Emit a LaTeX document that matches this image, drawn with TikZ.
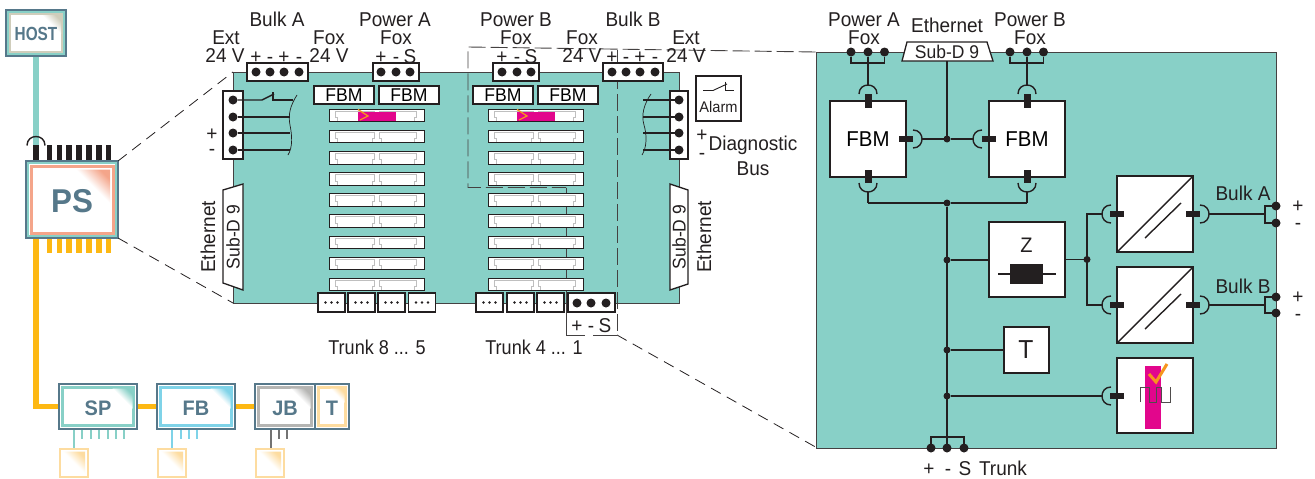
\documentclass[tikz,border=0pt]{standalone}
\usepackage{fontspec}
\setmainfont[FakeStretch=0.95]{Liberation Sans}
\usetikzlibrary{calc}
\definecolor{teal}{HTML}{88D0C7}
\definecolor{slate}{HTML}{56788A}
\definecolor{ink}{HTML}{231F20}
\definecolor{amber}{HTML}{FDB813}
\definecolor{magen}{HTML}{E2068C}
\definecolor{orng}{HTML}{F7941D}
\definecolor{salmon}{HTML}{F4A58A}
\definecolor{sky}{HTML}{7FD3E8}
\definecolor{greyr}{HTML}{B5B5B3}
\definecolor{tan}{HTML}{FDDCA0}
\definecolor{khaki}{HTML}{CFCDBB}
\tikzset{
 lbl/.style={font=\fontsize{20}{20}\selectfont,text=ink,inner sep=0pt,outer sep=0pt,text height=14.3pt,text depth=0pt},
 slbl/.style={font=\fontsize{18.4}{18.4}\selectfont,text=ink,inner sep=0pt,outer sep=0pt,text height=13.2pt,text depth=0pt},
 block/.style={draw=ink,fill=white,line width=1.3pt,inner sep=0pt,outer sep=0pt},
 wire/.style={draw=ink,line width=1.4pt},
 dashln/.style={draw=ink,line width=0.8pt,dash pattern=on 11pt off 7pt},
 framedash/.style={draw=ink!85,line width=0.9pt,dash pattern=on 17pt off 5pt},
 bigdot/.style={circle,fill=ink,minimum size=9pt,inner sep=0pt,outer sep=0pt},
 joint/.style={circle,fill=ink,minimum size=7pt,inner sep=0pt,outer sep=0pt},
 tiny/.style={circle,fill=ink,minimum size=2.8pt,inner sep=0pt,outer sep=0pt},
 pin/.style={fill=ink,draw=none,inner sep=0pt,outer sep=0pt},
 corner/.style={top color=#1,bottom color=white,middle color=white,shading angle=-45},
 devtext/.style={text=slate,font=\bfseries\fontsize{21}{21}\selectfont,inner sep=0pt},
}
% name x1 y1 x2 y2 style text
\newcommand{\pbox}[7]{\node[#6,minimum width={(#4-#2)*1pt},minimum height={(#5-#3)*1pt}] (#1) at ({(#2+#4)/2},{(#3+#5)/2}) {#7};}
% device: name x1 y1 x2 y2 ring colour, ring width, corner size
\newcommand{\devbox}[8]{%
 \fill[white] (#2,#3) rectangle (#4,#5);
 \draw[#6,line width=#7pt] ({#2+3.5},{#3+3.5}) rectangle ({#4-3.5},{#5-3.5});
 \shade[corner=#6] ({#4-4.5-#8},{#3+4.5}) -- ({#4-4.5},{#3+4.5}) -- ({#4-4.5},{#3+4.5+#8}) -- cycle;
 \pbox{#1}{#2}{#3}{#4}{#5}{draw=slate,line width=1.2pt,inner sep=0pt,outer sep=0pt}{}
}
\newcommand{\arcU}[2]{\draw[wire] ({#1-9},#2) .. controls ({#1-9},{#2-12}) and ({#1+9},{#2-12}) .. ({#1+9},#2);}
\newcommand{\arcD}[2]{\draw[wire] ({#1-9},#2) .. controls ({#1-9},{#2+12}) and ({#1+9},{#2+12}) .. ({#1+9},#2);}
\newcommand{\arcL}[2]{\draw[wire] (#1,{#2-9}) .. controls ({#1-12},{#2-9}) and ({#1-12},{#2+9}) .. (#1,{#2+9});}
\newcommand{\arcR}[2]{\draw[wire] (#1,{#2-9}) .. controls ({#1+12},{#2-9}) and ({#1+12},{#2+9}) .. (#1,{#2+9});}
\newcommand{\slotbox}[2]{% x y
 \fill[white] (#1,#2) rectangle ({#1+95},{#2+12.5});
 \draw[black!25,line width=0.6pt] ({#1+8},{#2+12}) -- ({#1+8},{#2+8}) -- ({#1+6},{#2+8}) -- ({#1+6},{#2+1.8}) -- ({#1+45},{#2+1.8}) -- ({#1+45},{#2+8}) -- ({#1+43},{#2+8}) -- ({#1+43},{#2+12});
 \draw[black!25,line width=0.6pt] ({#1+52},{#2+12}) -- ({#1+52},{#2+8}) -- ({#1+50},{#2+8}) -- ({#1+50},{#2+1.8}) -- ({#1+87},{#2+1.8}) -- ({#1+87},{#2+8}) -- ({#1+85},{#2+8}) -- ({#1+85},{#2+12});
 \draw[ink,line width=0.9pt] (#1,#2) rectangle ({#1+95},{#2+12.5});
}
\begin{document}
\begin{tikzpicture}[x=1pt,y=-1pt]
\useasboundingbox (0,0) rectangle (1315,479);

%% left tree
\draw[teal,line width=5.5pt] (36,56) -- (36,146);
\draw[amber,line width=5.5pt,line join=miter] (36,238) -- (36,406.5) -- (60,406.5);
\draw[amber,line width=5.5pt] (137,406.5) -- (157,406.5) (235,406.5) -- (255,406.5);
\foreach \x in {36,49.5,59.5,69,79,89,99,108.5}{
 \draw[ink,line width=5.2pt] (\x,145) -- (\x,161);
}
\foreach \x in {49.5,59.5,69,79,89,99,108.5}{
 \draw[amber,line width=5.2pt] (\x,238) -- (\x,253);
}
\arcU{36}{145.5}
\fill[white] (6,10) rectangle (66,56);
\draw[khaki,line width=2.2pt] (10,14) rectangle (62,52);
\shade[corner=khaki] (42,15) -- (61,15) -- (61,34) -- cycle;
\draw[teal,line width=1.6pt] (8,12) rectangle (64,54);
\pbox{host}{6}{10}{66}{56}{draw=slate,line width=1.3pt,inner sep=0pt,outer sep=0pt}{}
\node[text=slate,font=\bfseries\fontsize{19}{19}\selectfont,inner sep=0pt,xscale=0.85] (hostt) at (36,33.5) {HOST};

\fill[white] (26,161) rectangle (118,238);
\draw[teal,line width=2.5pt] (28,163) rectangle (116,236);
\draw[salmon,line width=3pt] (31,166) rectangle (113,233);
\shade[corner=salmon] (76,169.5) -- (110,169.5) -- (110,203.5) -- cycle;
\pbox{ps}{26}{161}{118}{238}{draw=slate,line width=1.3pt,inner sep=0pt,outer sep=0pt}{}
\node[text=slate,font=\bfseries\fontsize{33}{33}\selectfont,inner sep=0pt] (pst) at (72,201) {PS};

\foreach \x in {74,82,91,99,108,116,124}{\draw[teal,line width=2.4pt] (\x,429) -- (\x,439);}
\draw[teal,line width=2.4pt] (74,439) -- (74,449);
\foreach \x in {172,181,189,197}{\draw[sky,line width=2.4pt] (\x,429) -- (\x,439);}
\draw[sky,line width=2.4pt] (172,439) -- (172,449);
\foreach \x in {271,279,287}{\draw[black!55,line width=2.4pt] (\x,429) -- (\x,439);}
\draw[black!55,line width=2.4pt] (271,439) -- (271,449);

\devbox{sp}{59}{384}{137}{429}{teal}{2.2}{20}
\node[devtext] (spt) at (98,408) {SP};
\devbox{fb}{157}{384}{235}{429}{sky}{2.2}{20}
\node[devtext] (fbt) at (196,408) {FB};
\devbox{jb}{255}{384}{315}{429}{greyr}{2.2}{20}
\node[devtext] (jbt) at (285,408) {JB};
\devbox{tb}{315}{384}{349}{429}{tan}{2.2}{14}
\node[devtext] (tbt) at (332,408) {T};
\foreach \n/\x in {a/59,b/157,c/255}{
 \fill[white] (\x,448) rectangle ({\x+30},478);
 \draw[tan,line width=2.2pt] ({\x+1.1},449.1) rectangle ({\x+28.9},476.9);
 \shade[corner=tan] ({\x+4},451.5) -- ({\x+26},451.5) -- ({\x+26},473.5) -- cycle;
}

%% board
\coordinate (bTL) at (233,72);
\coordinate (bBL) at (233,303);
\fill[teal] (233,72) rectangle (679,303);
\draw[ink!85,line width=1pt] (679,72) -- (233,72) -- (233,303) -- (679,303) -- cycle;
\draw[dashln] (ps.north east) -- (bTL);
\draw[dashln] (ps.south east) -- (bBL);

% frame, behind the slots and blocks
\coordinate (fA) at (468,47);
\coordinate (fB) at (468,187.5);
\coordinate (fC) at (566,187.5);
\coordinate (fD) at (566,335);
\coordinate (fE) at (617,335);
\coordinate (fF) at (617,50);
\coordinate (fG) at (815.5,52);
\coordinate (fH) at (815.5,447);
\coordinate (fM) at (585,335);
\coordinate (fN) at (593,335);
\draw[framedash] (fG) -- (fA) -- (fB) -- (fC);
\draw[ink!85,line width=0.9pt] (fC) -- (fD) -- (fM) (fN) -- (fE);
\draw[framedash] (fF) -- (fE);
\draw[dashln] (fE) -- (fH);

% slots
\foreach \y in {109,130.3,151.6,172.8,193.5,214.8,236,257,278.2}{
 \slotbox{329}{\y}
 \slotbox{488}{\y}
}
\foreach \x in {358,517}{
 \fill[magen] (\x,112) rectangle ({\x+38},121);
 \draw[orng,line width=1.3pt] (\x,109.5) -- ({\x+10},116) -- ({\x+2},120);
}
\pbox{fbm1}{314}{86}{374}{104}{block}{\fontsize{18.5}{18.5}\selectfont FBM}
\pbox{fbm2}{379}{86}{439}{104}{block}{\fontsize{18.5}{18.5}\selectfont FBM}
\pbox{fbm3}{473}{86}{533}{104}{block}{\fontsize{18.5}{18.5}\selectfont FBM}
\pbox{fbm4}{538}{86}{598}{104}{block}{\fontsize{18.5}{18.5}\selectfont FBM}

% top connectors
\pbox{bulkA}{247}{63}{308}{81}{block}{}
\foreach \x in {256,270,284,299}{\node[bigdot] at (\x,72) {};}
\pbox{powA}{373}{63}{419}{81}{block}{}
\foreach \x in {381,396,410}{\node[bigdot] at (\x,72) {};}
\pbox{powB}{493}{63}{539}{81}{block}{}
\foreach \x in {502,517,531}{\node[bigdot] at (\x,72) {};}
\pbox{bulkB}{603}{63}{663}{81}{block}{}
\foreach \x in {612,626,640,655}{\node[bigdot] at (\x,72) {};}

% side strips
\pbox{stripL}{223}{91}{243}{159}{block}{}
\pbox{stripR}{670}{91}{688}{159}{block}{}
\foreach \y/\n in {100/a,117/b,133/c,150/d}{
 \node[bigdot] (L\n) at (233,\y) {};
 \node[bigdot] (R\n) at (679,\y) {};
 \coordinate (LE\n) at (290,\y);
 \coordinate (RE\n) at (643,\y);
}
\foreach \n in {b,c,d}{\draw[wire] (L\n) -- (LE\n);}
\foreach \n in {a,b,c,d}{\draw[wire] (R\n) -- (RE\n);}
\draw[wire] (La) -- (262,100) -- (274,94);
\draw[wire] (273,92) -- (273,100) -- (293,100);
\draw[ink,line width=0.7pt] (297,95) .. controls (290,106) and (288,115) .. (290,125) .. controls (292,135) and (293,147) .. (288,155);
\draw[ink,line width=0.7pt] (651,94) .. controls (644,104) and (641,115) .. (644,125) .. controls (647,135) and (647,147) .. (642,155);

% alarm
\pbox{alarm}{696}{76}{741}{121}{block}{}
\draw[ink,line width=0.9pt] (703,90.5) -- (713,90.5) -- (727,84);
\draw[ink,line width=0.9pt] (725,81.5) -- (725,90.5) -- (734,90.5);
\node[font=\fontsize{15.4}{15.4}\selectfont,text=ink,inner sep=0pt] (alarmt) at (718.5,107) {Alarm};

% Sub-D trapezoids
\draw[block] (243,184) -- (243,290) -- (223,283) -- (223,190) -- cycle;
\node[slbl,rotate=90] (subL) at (233,237) {Sub-D 9};
\node[lbl,rotate=90] (ethL) at (208,237) {Ethernet};
\draw[block] (670,184) -- (670,290) -- (688,284) -- (688,190) -- cycle;
\node[slbl,rotate=90] (subR) at (679,237) {Sub-D 9};
\node[lbl,rotate=90] (ethR) at (704,237) {Ethernet};

% trunk blocks
\foreach \n/\a in {t8/318,t7/348,t6/378,t5/408.5,t4/476,t3/507,t2/537}{
 \pgfmathsetmacro{\bb}{\a+27}
 \pbox{\n}{\a}{293}{\bb}{312}{block}{}
 \foreach \d in {-6,0,6}{\node[tiny] at ({\a+13.5+\d},302.5) {};}
}
\pbox{t1}{568}{293}{615}{312}{block}{}
\foreach \x in {577,591,606}{\node[bigdot] at (\x,303) {};}

%% board labels
\node[lbl] at (277,19) {Bulk A};
\node[lbl] at (226,37) {Ext};
\node[lbl] at (225,55) {24 V};
\foreach \x/\t in {256/+,270/-,284/+,299/-}{\node[lbl] at (\x,56) {\t};}
\node[lbl] at (329,37) {Fox};
\node[lbl] at (329,55) {24 V};
\node[lbl] at (395,19) {Power A};
\node[lbl] at (396,37) {Fox};
\foreach \x/\t in {381/+,396/-,410/S}{\node[lbl] at (\x,56) {\t};}
\node[lbl] at (516,19) {Power B};
\node[lbl] at (516,37) {Fox};
\foreach \x/\t in {502/+,517/-,531/S}{\node[lbl] at (\x,56) {\t};}
\node[lbl] at (582,37) {Fox};
\node[lbl] at (582,55) {24 V};
\node[lbl] at (633,19) {Bulk B};
\foreach \x/\t in {612/+,626/-,640/+,655/-}{\node[lbl] at (\x,56) {\t};}
\node[lbl] at (686,37) {Ext};
\node[lbl] at (686,55) {24 V};
\node[lbl] at (212,133) {+};
\node[lbl] at (212,148) {-};
\node[lbl] at (702,134) {+};
\node[lbl] at (702,152) {-};
\node[lbl] at (753,143) {Diagnostic};
\node[lbl] at (753,168) {Bus};
\foreach \x/\t in {577/+,591/-,605/S}{\node[lbl] at (\x,325) {\t};}
\node[lbl,xscale=0.95] at (377,347) {Trunk 8 ... 5};
\node[lbl,xscale=0.95] at (534,347) {Trunk 4 ... 1};

%% right panel
\fill[teal] (816,52) rectangle (1276,448);
\draw[ink!85,line width=1pt] (816,52) rectangle (1276,448);

% top connectors
\foreach \n/\cx in {A/868,B/1027}{
 \node[bigdot] (top\n1) at ({\cx-17},52) {};
 \node[bigdot] (top\n2) at (\cx,52) {};
 \node[bigdot] (top\n3) at ({\cx+16.5},52) {};
 \draw[wire] (top\n1) -- ({\cx-17},63) -- ({\cx+16.5},63) -- (top\n3);
 \draw[wire] (top\n2) -- (\cx,85);
 \arcU{\cx}{94}
 \arcD{\cx}{183}
 \draw[wire] (\cx,192) -- (\cx,203);
}
\pbox{FA}{830}{101}{906}{177}{block}{\fontsize{21.5}{21.5}\selectfont FBM}
\pbox{FB}{989}{101}{1065}{177}{block}{\fontsize{21.5}{21.5}\selectfont FBM}
\foreach \cx in {868,1027}{
 \fill[pin] ({\cx-3.5},94) rectangle ({\cx+3.5},108);
 \fill[pin] ({\cx-3.5},170) rectangle ({\cx+3.5},183);
}
\fill[pin] (899,135.5) rectangle (913,142);
\fill[pin] (982,135.5) rectangle (996,142);
\arcR{913}{139}
\arcL{982}{139}
\node[joint] (jE) at (947,139) {};
\node[joint] (jF) at (947,203) {};
\draw[wire] (922,139) -- (jE) -- (973,139);
\draw[wire] (868,203) -- (jF) -- (1027,203);
\draw[block] (907,42) -- (987,42) -- (993,61) -- (902,61) -- cycle;
\coordinate (subT) at (947,61);
\draw[wire] (subT) -- (jE);
\node[slbl] (subTt) at (947,52) {Sub-D 9};
\node[lbl] at (947,25) {Ethernet};
\node[lbl] at (864,19) {Power A};
\node[lbl] at (864,37) {Fox};
\node[lbl] at (1030,19) {Power B};
\node[lbl] at (1030,37) {Fox};

% trunk bus
\node[bigdot] (tr1) at (931,448) {};
\node[bigdot] (tr2) at (947,448) {};
\node[bigdot] (tr3) at (964,448) {};
\draw[wire] (jF) -- (tr2);
\draw[wire] (tr1) -- (931,437) -- (964,437) -- (tr3);
\foreach \x/\t in {929/+,948/-,965/S}{\node[lbl] at (\x,468) {\t};}
\node[lbl] at (1003,468) {Trunk};

% Z
\pbox{Z}{989}{222}{1065}{297}{block}{}
\node[font=\fontsize{21}{21}\selectfont,text=ink,inner sep=0pt] (Zt) at (1026.5,245) {Z};
\draw[wire] (998,274) -- (1056,274);
\fill[pin] (1010,264) rectangle (1043,284);
\node[joint] (jZ) at (947,260) {};
\draw[wire] (jZ) -- (989,260);
\node[joint] (jR) at (1087,259.5) {};
\draw[wire] (1065,259.5) -- (jR);
\draw[wire] (1102,214) -- (1087,214) -- (1087,305) -- (1102,305);

% converters
\pbox{C1}{1117}{176}{1193}{252}{block}{}
\pbox{C2}{1117}{267}{1193}{343}{block}{}
\foreach \y in {214,305}{
 \arcL{1111}{\y}
 \arcR{1200}{\y}
 \fill[pin] (1110,{\y-3.3}) rectangle (1124,{\y+3.3});
 \fill[pin] (1186,{\y-3.3}) rectangle (1200,{\y+3.3});
 \draw[wire] (1209,\y) -- (1265,\y);
}
\draw[wire] (C1.south west) -- (C1.north east);
\draw[wire] (C2.south west) -- (C2.north east);
\draw[wire] (1145,238) -- (1181,203);
\draw[wire] (1145,329) -- (1181,294);
\node[bigdot] (bA1) at (1276,206) {};
\node[bigdot] (bA2) at (1276,223) {};
\node[bigdot] (bB1) at (1276,297) {};
\node[bigdot] (bB2) at (1276,313) {};
\draw[wire] (bA1) -- (1265,206) -- (1265,223) -- (bA2);
\draw[wire] (bB1) -- (1265,297) -- (1265,313) -- (bB2);
\node[lbl] at (1243,193) {Bulk A};
\node[lbl] at (1243,286) {Bulk B};
\node[lbl] at (1298,205) {+};
\node[lbl] at (1298,222) {-};
\node[lbl] at (1298,296) {+};
\node[lbl] at (1298,313) {-};

% T
\pbox{Tb}{1004}{327}{1049}{373}{block}{}
\node[font=\fontsize{26}{26}\selectfont,text=ink,inner sep=0pt] (Tt) at (1026,350) {T};
\node[joint] (jT) at (947,350) {};
\draw[wire] (jT) -- (Tb);

% diagnostic
\pbox{Dg}{1117}{358}{1193}{433}{block}{}
\fill[magen] (1145,366) rectangle (1161,429);
\draw[orng,line width=3pt] (1149,374) -- (1156,382) -- (1167,364);
\draw[ink!80,line width=0.9pt] (1140,402) -- (1140,387) -- (1149,387) -- (1149,402) -- (1156,402) -- (1156,387) -- (1161,387) -- (1161,402) -- (1170,402) -- (1170,387);
\node[joint] (jD) at (947,396) {};
\draw[wire] (jD) -- (1102,396);
\arcL{1111}{396}
\fill[pin] (1110,392.7) rectangle (1124,399.3);
\end{tikzpicture}
\end{document}
